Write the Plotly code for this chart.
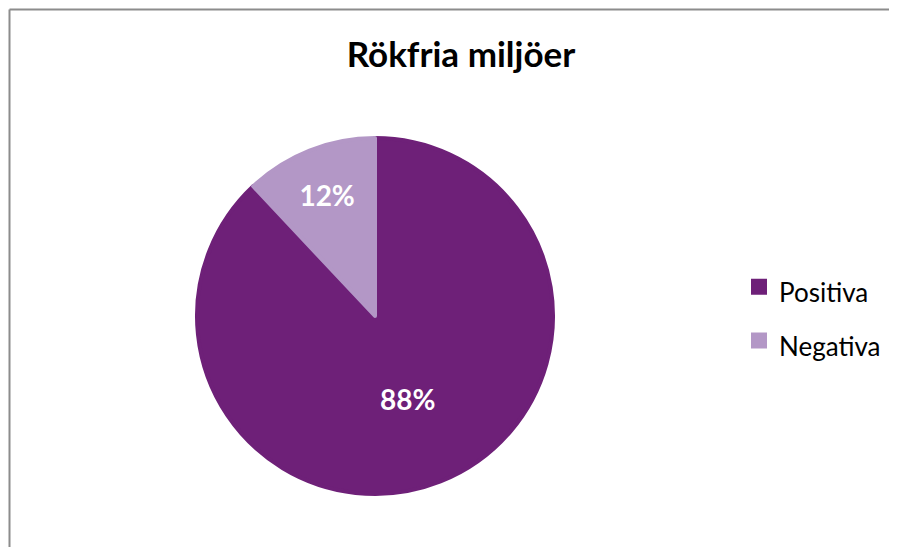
import plotly.graph_objects as go

labels = ["Positiva", "Negativa"]
values = [88, 12]
colors = ["#6E2078", "#B397C6"]
title_text = "Rökfria miljöer"

# page body has an 8px margin, so the figure fills the rest of the window
W, H = 889, 539
cx, cy, r = 367, 308, 178

legend_labels = ["<span style='font-size:26px'>%s</span>" % s for s in labels]

fig = go.Figure(go.Pie(
    labels=legend_labels,
    values=values,
    sort=False,
    direction="clockwise",
    rotation=0,
    marker=dict(colors=colors, line=dict(width=4, color=colors)),
    textinfo="percent",
    texttemplate="%{percent:.0%}",
    textposition="inside",
    insidetextorientation="horizontal",
    textfont=dict(family="Lato", size=28, color="white", weight="bold"),
    domain=dict(x=[(cx - r) / W, (cx + r) / W], y=[(H - cy - r) / H, (H - cy + r) / H]),
    hovertemplate="%{percent:.0%}<extra></extra>",
))

fig.update_layout(
    width=W, height=H,
    margin=dict(l=0, r=0, t=0, b=0),
    paper_bgcolor="white",
    plot_bgcolor="white",
    title=dict(text="<b>" + title_text + "</b>", x=453 / W, xanchor="center", y=1 - 47 / H, yanchor="middle",
               font=dict(family="Lato", size=35, color="black")),
    legend=dict(x=731 / W, xanchor="left", y=1 - 306 / H, yanchor="middle",
                font=dict(family="Lato", size=39, color="black"),
                itemwidth=30),
    showlegend=True,
    shapes=[
        dict(type="line", xref="paper", yref="paper",
             x0=1.5 / W, x1=1.5 / W, y0=-0.1, y1=1 - 1.5 / H,
             line=dict(color="#8C8C8C", width=2), layer="below"),
        dict(type="line", xref="paper", yref="paper",
             x0=1.5 / W, x1=1.1, y0=1 - 1.5 / H, y1=1 - 1.5 / H,
             line=dict(color="#8C8C8C", width=2), layer="below"),
    ],
)

fig.write_html("out.html")
